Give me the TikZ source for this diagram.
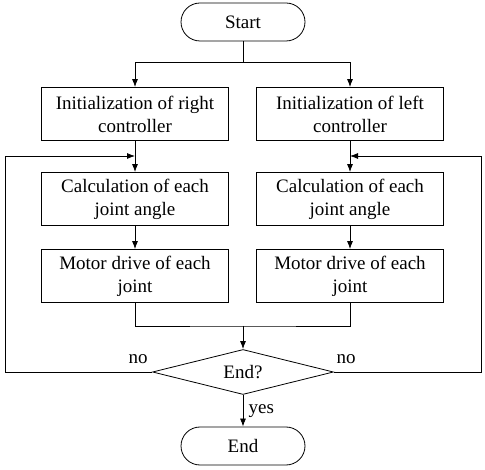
\documentclass[tikz,border=0pt]{standalone}
\usepackage{fontspec}
\setmainfont{Liberation Serif}
\usepackage{tikz}
\usetikzlibrary{positioning, arrows.meta, shapes.geometric, shapes.misc}

\tikzset{
  terminal/.style={draw, rounded rectangle, minimum width=124pt, minimum height=38pt, inner sep=0pt},
  stepbox/.style={draw, rectangle, minimum width=187pt, minimum height=53pt, align=center, inner sep=0pt},
  decision/.style={draw, diamond, aspect=4, minimum width=181pt, minimum height=45pt, inner sep=0pt},
}

\begin{document}
\begin{tikzpicture}[x=1pt,y=-1pt,line width=0.8pt,>={Latex[length=8pt,width=6pt]},
  font=\fontsize{19}{23}\selectfont]
\useasboundingbox (0,0) rectangle (485,470);
\node[terminal] (start) at (243,22) {Start};
\node[stepbox] (initR) at (135,114) {Initialization of right\\controller};
\node[stepbox] (initL) at (350,114) {Initialization of left\\controller};
\node[stepbox] (calcR) at (135,199) {Calculation of each\\joint angle};
\node[stepbox] (calcL) at (350,199) {Calculation of each\\joint angle};
\node[stepbox] (motorR) at (135,276) {Motor drive of each\\joint};
\node[stepbox] (motorL) at (350,276) {Motor drive of each\\joint};
\node[decision] (check) at (243,372) {End?};
\node[terminal] (stop) at (243,446) {End};
\coordinate (split) at (243,62);
\coordinate (merge) at (243,326);
\coordinate (joinR) at (135,156);
\coordinate (joinL) at (350,156);
% start to both controllers
\draw (start) -- (split);
\draw[->] (split) -| (initR);
\draw[->] (split) -| (initL);
\draw[->] (initR) -- (calcR);
\draw[->] (initL) -- (calcL);
\draw[->] (calcR) -- (motorR);
\draw[->] (calcL) -- (motorL);
\draw (motorR) |- (merge) -| (motorL);
\draw[->] (merge) -- (check);
% loops back
\draw[->] (check.west) -- (5,372) -- (5,156) -- (joinR);
\draw[->] (check.east) -- (481,372) -- (481,156) -- (joinL);
\node at (138,359) {no};
\node at (346,359) {no};
\draw[->] (check) -- (stop) node[midway,right,xshift=2pt] {yes};
\end{tikzpicture}
\end{document}
